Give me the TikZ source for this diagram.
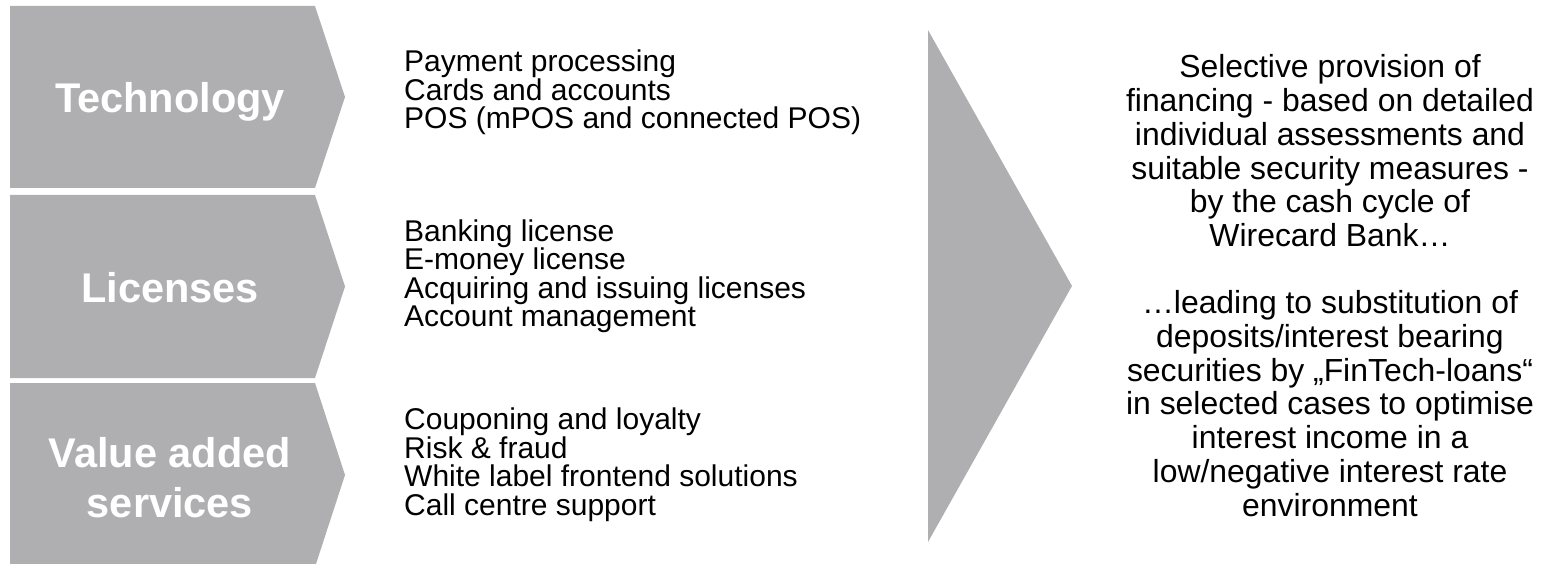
\documentclass[tikz,border=0pt]{standalone}
\usepackage{fontspec}
\setmainfont{Liberation Sans}
\usepackage{tikz}
\usetikzlibrary{positioning}
\definecolor{chevrongray}{RGB}{175,175,177}

\begin{document}
\begin{tikzpicture}[x=1pt, y=-1pt,
    chevron/.style={fill=chevrongray},
    chevlabel/.style={text=white, align=center, inner sep=0pt, anchor=base,
                      font=\fontsize{41.5}{50}\selectfont\bfseries},
    itemlist/.style={align=left, inner sep=0pt, anchor=base west,
                     font=\fontsize{30}{28.5}\selectfont},
    outcome/.style={align=center, inner sep=0pt, anchor=base,
                    font=\fontsize{31.9}{33.7}\selectfont}]

\useasboundingbox (0,0) rectangle (1547,564);

% Chevrons on the left
\foreach \ytop/\ybot in {6/188, 195/378, 383/567}
  \fill[chevron] (10,\ytop) -- (315,\ytop) -- (345,{(\ytop+\ybot)/2})
                 -- (315,\ybot) -- (10,\ybot) -- cycle;

% labels sit on the baseline of their last line
\node[chevlabel] (techlabel) at (170,113) {Technology};
\node[chevlabel] (liclabel)  at (170,302) {Licenses};
\node[chevlabel] (vaslabel)  at (170,517) {Value added\\services};

% Feature lists
\node[itemlist] (techlist) at (404,129)
  {Payment processing\\Cards and accounts\\POS (mPOS and connected POS)};
\node[itemlist] (liclist) at (404,326.5)
  {Banking license\\E-money license\\Acquiring and issuing licenses\\Account management};
\node[itemlist] (vaslist) at (404,515)
  {Couponing and loyalty\\Risk \& fraud\\White label frontend solutions\\Call centre support};

% Big arrow
\coordinate (arrtop) at (928,30);
\coordinate (arrtip) at (1072,286);
\coordinate (arrbot) at (928,542);
\fill[chevron] (arrtop) -- (arrtip) -- (arrbot) -- cycle;

% Outcome text
\node[outcome] (result) at (1330,516)
  {Selective provision of\\financing - based on detailed\\individual assessments and\\
   suitable security measures -\\by the cash cycle of\\Wirecard Bank…\\[33.7pt]
   …leading to substitution of\\deposits/interest bearing\\
   securities by „FinTech-loans“\\in selected cases to optimise\\
   interest income in a\\low/negative interest rate\\environment};

\end{tikzpicture}
\end{document}
